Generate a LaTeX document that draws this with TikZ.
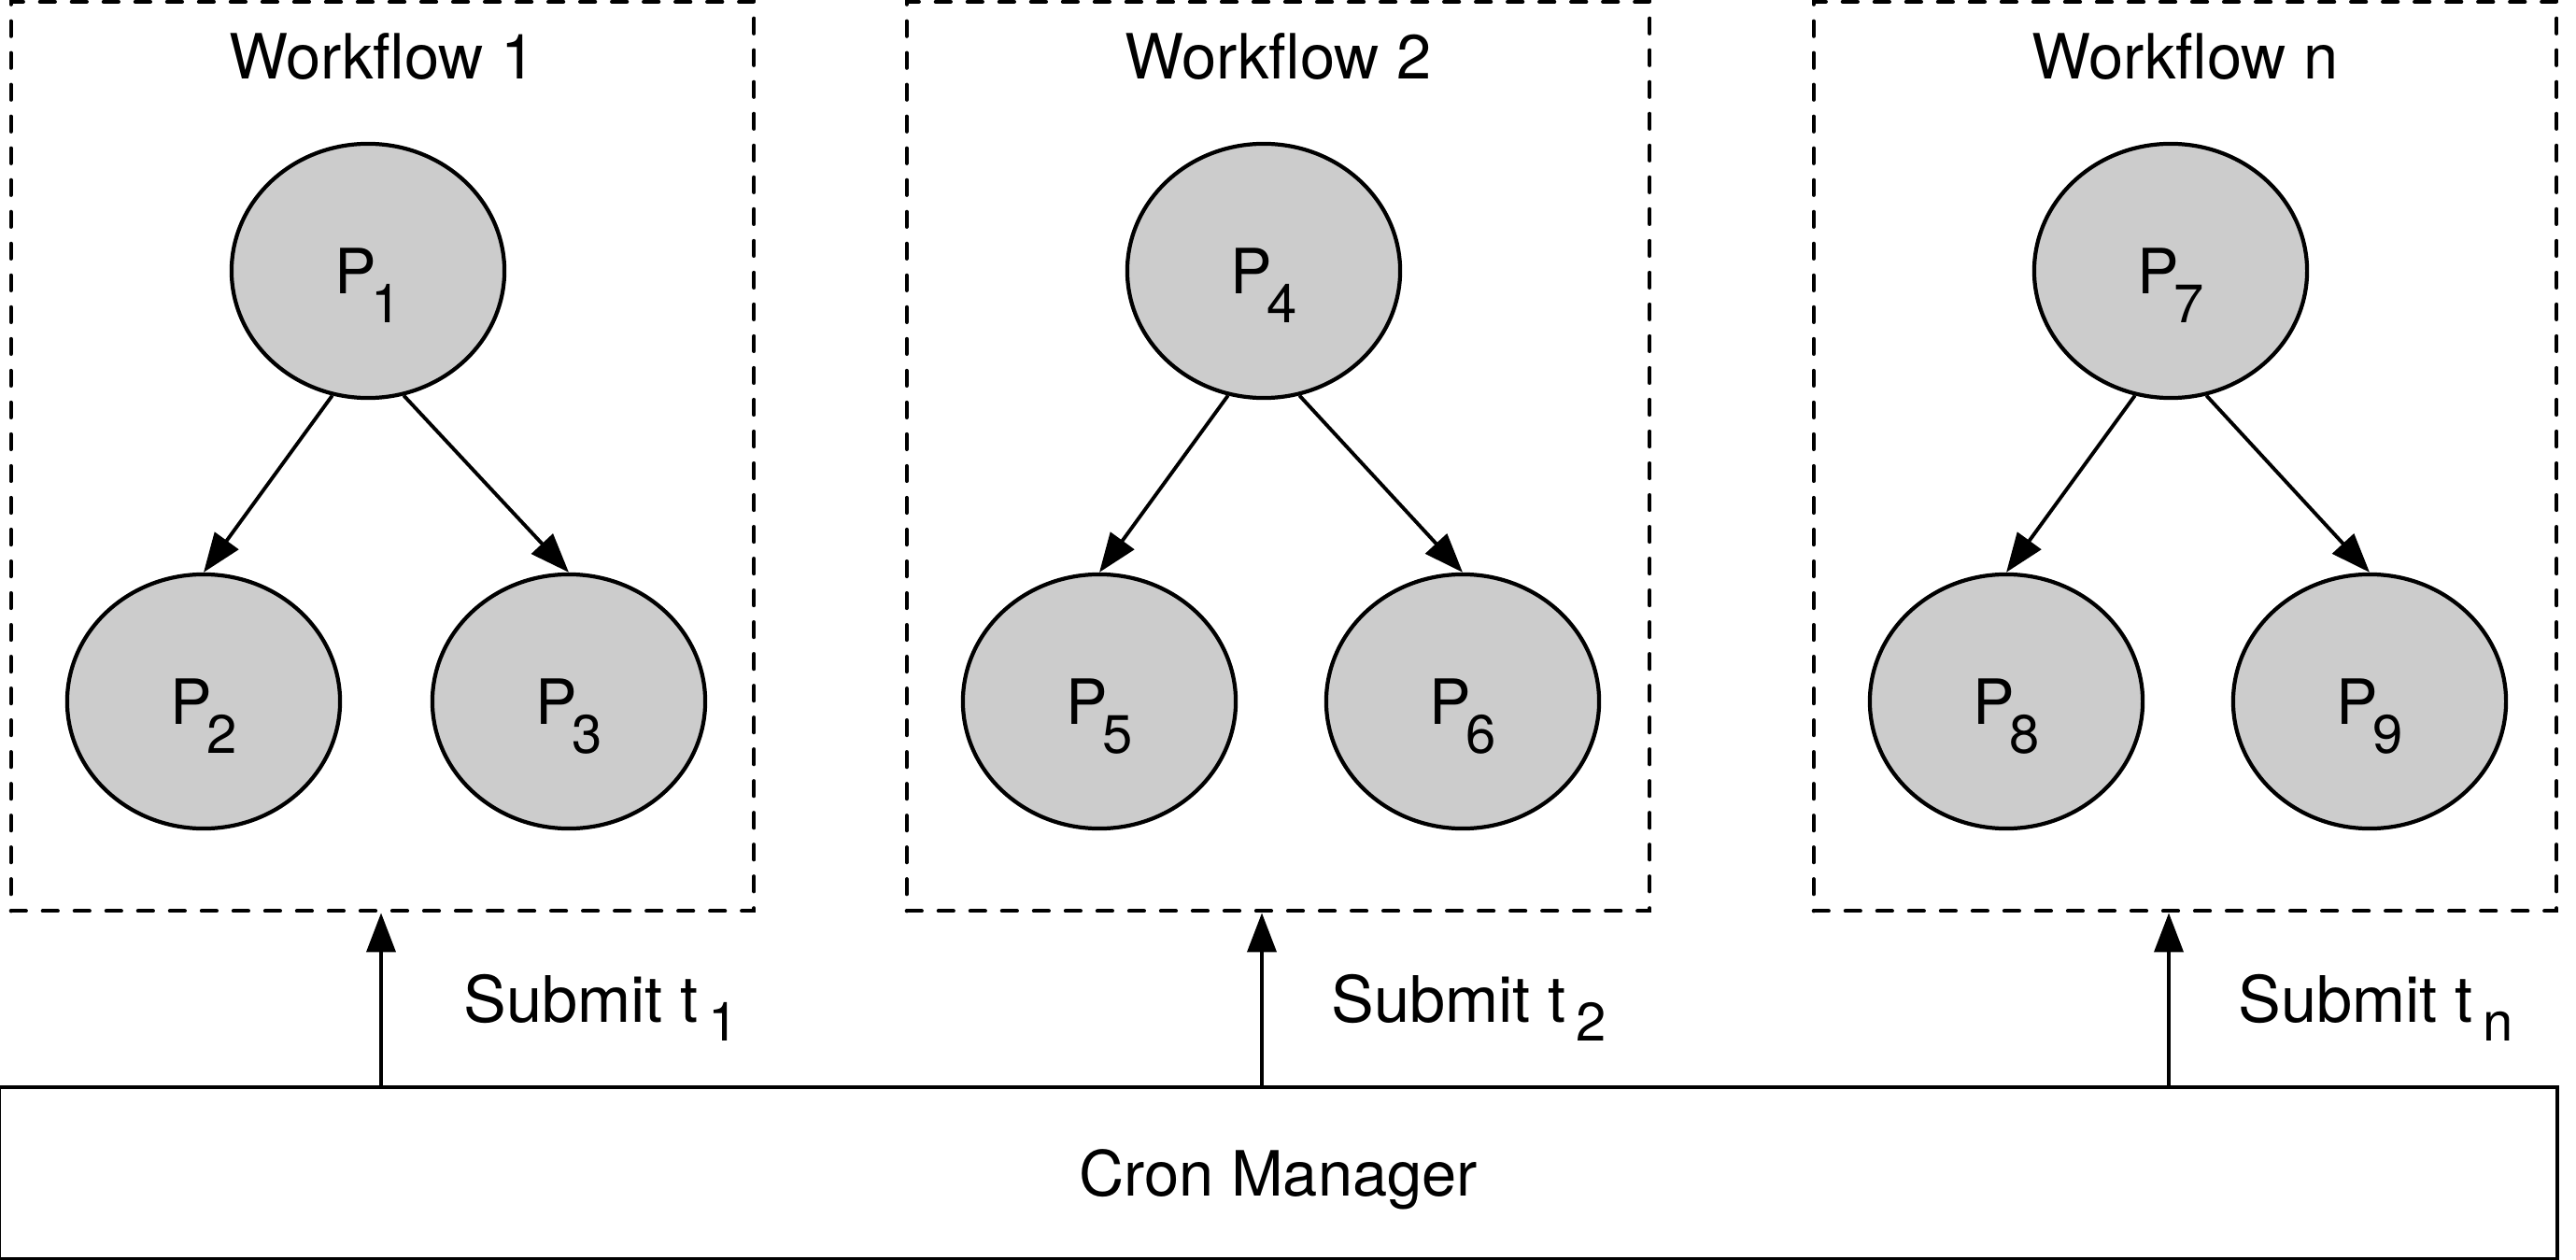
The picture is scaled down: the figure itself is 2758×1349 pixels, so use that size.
\documentclass[tikz,border=0pt]{standalone}
\usepackage{fontspec}
\setmainfont{TeX Gyre Heros}
\usepackage{xcolor}
\definecolor{procgray}{RGB}{204,204,204}
\usetikzlibrary{arrows.meta,positioning,shapes.geometric}
\newcommand{\psub}[1]{\kern-0.08em\raisebox{-0.46em}[0pt][0pt]{\fontsize{16.5}{17}\selectfont #1}}
\newcommand{\tsub}[1]{\kern0.16em\raisebox{-0.3em}[0pt][0pt]{\fontsize{16.5}{17}\selectfont #1}}

\begin{document}
\begin{tikzpicture}[x=0.01cm, y=-0.01cm,
  wfbox/.style={draw, dash pattern=on 0.16cm off 0.18cm, line cap=round, line width=1.2pt, minimum width=7.95cm, minimum height=9.73cm},
  proc/.style={draw, ellipse, fill=procgray, line width=1.2pt, minimum width=2.92cm, minimum height=2.72cm, inner sep=0pt, font=\fontsize{19}{23}\selectfont},
  lbl/.style={font=\fontsize{19}{23}\selectfont},
  sublbl/.style={font=\fontsize{19.5}{23}\selectfont, anchor=base west},
  flow/.style={-{Triangle[length=0.42cm,width=0.31cm]}, line width=1.1pt}]
  \useasboundingbox (0,0) rectangle (2758,1349);

  % Workflow boxes
  \node[wfbox] (wf1) at (409.5,488.5) {};
  \node[wfbox] (wf2) at (1368.5,488.5) {};
  \node[wfbox] (wf3) at (2339.5,488.5) {};

  % Titles
  \node[lbl, below=0.24cm of wf1.north] (title1) {Workflow 1};
  \node[lbl, below=0.24cm of wf2.north] (title2) {Workflow 2};
  \node[lbl, below=0.24cm of wf3.north] (title3) {Workflow n};

  % Workflow 1 processes
  \node[proc] (p1) at (394,290) {P\psub{1}};
  \node[proc] (p2) at (218,751) {P\psub{2}};
  \node[proc] (p3) at (609,751) {P\psub{3}};

  % Workflow 2 processes
  \node[proc] (p4) at (1353,290) {P\psub{4}};
  \node[proc] (p5) at (1177,751) {P\psub{5}};
  \node[proc] (p6) at (1566,751) {P\psub{6}};

  % Workflow n processes
  \node[proc] (p7) at (2324,290) {P\psub{7}};
  \node[proc] (p8) at (2148,751) {P\psub{8}};
  \node[proc] (p9) at (2537,751) {P\psub{9}};

  % Dependencies
  \draw[flow] (p1.-106) -- (p2.north);
  \draw[flow] (p1.-74) -- (p3.north);
  \draw[flow] (p4.-106) -- (p5.north);
  \draw[flow] (p4.-74) -- (p6.north);
  \draw[flow] (p7.-106) -- (p8.north);
  \draw[flow] (p7.-74) -- (p9.north);

  % Cron manager
  \node[draw, line width=1.2pt, minimum width=27.37cm, minimum height=1.84cm, text depth=0pt, lbl] (cron) at (1368.5,1256) {Cron Manager};

  % Submissions
  \coordinate (s1) at (408,0);
  \coordinate (s2) at (1351,0);
  \coordinate (s3) at (2322,0);
  \draw[flow] (cron.north -| s1) -- (wf1.south -| s1);
  \draw[flow] (cron.north -| s2) -- (wf2.south -| s2);
  \draw[flow] (cron.north -| s3) -- (wf3.south -| s3);

  % Labels
  \node[sublbl] (sub1) at (484,1094) {Submit t\tsub{1}};
  \node[sublbl] (sub2) at (1413,1094) {Submit t\tsub{2}};
  \node[sublbl] (sub3) at (2384,1094) {Submit t\tsub{n}};
\end{tikzpicture}
\end{document}
